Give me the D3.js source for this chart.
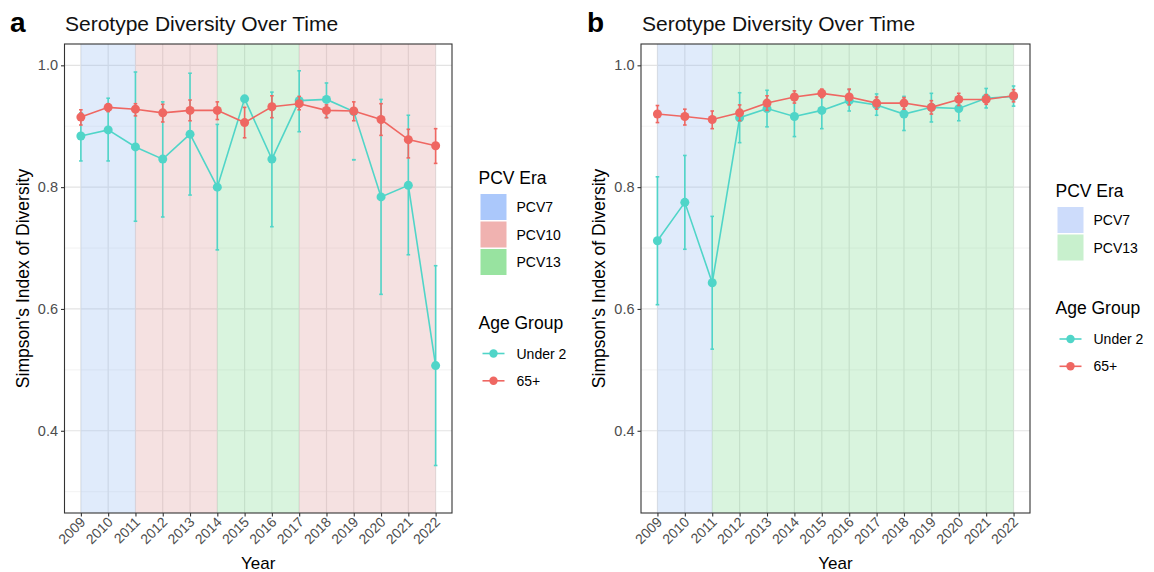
<!DOCTYPE html>
<html><head><meta charset="utf-8">
<script src="https://cdn.jsdelivr.net/npm/d3@7"></script>
<style>body{margin:0;background:#fff;}text{font-family:"Liberation Sans",Arial,sans-serif;}</style>
</head><body><svg id="c" width="1154" height="572"></svg>
<script>
const years = [2009,2010,2011,2012,2013,2014,2015,2016,2017,2018,2019,2020,2021,2022];
const yTicks = [0.4,0.6,0.8,1.0];
const yMinor = [0.3,0.5,0.7,0.9];

// Panel a
const aUnder2 = [0.884,0.894,0.866,0.846,0.887,0.800,0.945,0.846,0.942,0.944,0.924,0.784,0.803,0.507];
const aUnder2Lo = [0.843,0.843,0.744,0.751,0.787,0.697,0.945,0.735,0.891,0.914,0.845,0.624,0.689,0.343];
const aUnder2Hi = [0.922,0.946,0.989,0.940,0.987,0.903,0.945,0.956,0.991,0.971,0.845,0.944,0.918,0.671];
const a65 = [0.915,0.931,0.928,0.922,0.926,0.926,0.906,0.932,0.937,0.926,0.925,0.911,0.878,0.868];
const a65Lo = [0.902,0.924,0.917,0.907,0.909,0.911,0.881,0.914,0.927,0.914,0.909,0.885,0.848,0.839];
const a65Hi = [0.927,0.936,0.937,0.936,0.943,0.940,0.931,0.950,0.949,0.935,0.940,0.937,0.895,0.896];
const aEraStart = [2009,2011,2014,2017];
const aEraEnd = [2011,2014,2017,2022];
const aEraName = ["PCV7","PCV10","PCV13","PCV10"];
const aLegendEras = ["PCV7","PCV10","PCV13"];

// Panel b
const bUnder2 = [0.712,0.775,0.643,0.914,0.929,0.916,0.926,0.942,0.935,0.920,0.931,0.929,0.946,0.949];
const bUnder2Lo = [0.607,0.698,0.534,0.873,0.899,0.883,0.896,0.925,0.918,0.893,0.907,0.909,0.930,0.933];
const bUnder2Hi = [0.817,0.852,0.752,0.955,0.959,0.944,0.955,0.960,0.953,0.949,0.954,0.950,0.962,0.966];
const b65 = [0.920,0.916,0.911,0.922,0.938,0.948,0.954,0.948,0.938,0.938,0.931,0.944,0.944,0.950];
const b65Lo = [0.906,0.902,0.896,0.909,0.926,0.938,0.947,0.935,0.928,0.928,0.920,0.934,0.936,0.940];
const b65Hi = [0.934,0.928,0.925,0.935,0.950,0.958,0.961,0.961,0.948,0.947,0.942,0.954,0.952,0.960];
const bEraStart = [2009,2011];
const bEraEnd = [2011,2022];
const bEraName = ["PCV7","PCV13"];
const bLegendEras = ["PCV7","PCV13"];

const ageGroups = ["Under 2","65+"];
const ageColor = {"Under 2":"#50D5C8","65+":"#EF6762"};
const eraFill = {"PCV7":"#98bcf2","PCV10":"#dd9b9b","PCV13":"#80da91"};
const eraKeyA = {"PCV7":"#abc8fb","PCV10":"#f0b2b0","PCV13":"#98e3a0"};
const eraKeyB = {"PCV7":"#cddcfb","PCV13":"#c8f0cd"};

const svg = d3.select("#c");

function panel(opt){
  const {left,right,top,bottom,letter,letterX,titleX,u2,u2lo,u2hi,o65,o65lo,o65hi,eS,eE,eN,legX,legY,legEras,keyCol} = opt;
  const x = d3.scaleLinear().domain([2009-0.6,2022+0.6]).range([left,right]);
  const y = d3.scaleLinear().domain([0.265,1.035]).range([bottom,top]);
  const g = svg.append("g");
  // titles
  g.append("text").attr("x",letterX).attr("y",32).attr("font-size",28).attr("font-weight","bold").attr("fill","#000").text(letter);
  g.append("text").attr("x",titleX).attr("y",31).attr("font-size",21).attr("fill","#111").text("Serotype Diversity Over Time");
  // grid
  g.selectAll(".ymn").data(yMinor).enter().append("line")
    .attr("x1",left).attr("x2",right).attr("y1",d=>y(d)).attr("y2",d=>y(d))
    .attr("stroke","#ebebeb").attr("stroke-width",0.6);
  g.selectAll(".ymj").data(yTicks).enter().append("line")
    .attr("x1",left).attr("x2",right).attr("y1",d=>y(d)).attr("y2",d=>y(d))
    .attr("stroke","#e3e3e3").attr("stroke-width",1.2);
  g.selectAll(".xmj").data(years).enter().append("line")
    .attr("x1",d=>x(d)).attr("x2",d=>x(d)).attr("y1",top).attr("y2",bottom)
    .attr("stroke","#e3e3e3").attr("stroke-width",1.2);
  // eras
  g.selectAll(".era").data(eS).enter().append("rect")
    .attr("x",d=>x(d)).attr("width",(d,i)=>x(eE[i])-x(d))
    .attr("y",top).attr("height",bottom-top)
    .attr("fill",(d,i)=>eraFill[eN[i]]).attr("opacity",0.3);
  // series
  const series = [
    {name:"Under 2",m:u2,lo:u2lo,hi:u2hi},
    {name:"65+",m:o65,lo:o65lo,hi:o65hi}
  ];
  const line = d3.line().x((d,i)=>x(years[i])).y(d=>y(d));
  series.forEach(s=>{
    const col = ageColor[s.name];
    const sg = g.append("g");
    sg.append("path").datum(s.m).attr("d",line).attr("fill","none").attr("stroke",col).attr("stroke-width",1.6);
    years.forEach((yr,i)=>{
      if (s.lo[i]===s.hi[i] && s.lo[i]===s.m[i]) return;
      sg.append("line").attr("x1",x(yr)).attr("x2",x(yr)).attr("y1",y(s.lo[i])).attr("y2",y(s.hi[i]))
        .attr("stroke",col).attr("stroke-width",1.6);
      [s.lo[i],s.hi[i]].forEach(v=>{
        sg.append("line").attr("x1",x(yr)-1.8).attr("x2",x(yr)+1.8).attr("y1",y(v)).attr("y2",y(v))
          .attr("stroke",col).attr("stroke-width",1.6);
      });
    });
    sg.selectAll("circle").data(s.m).enter().append("circle")
      .attr("cx",(d,i)=>x(years[i])).attr("cy",d=>y(d)).attr("r",4.5).attr("fill",col);
  });
  // border
  g.append("rect").attr("x",left).attr("y",top).attr("width",right-left).attr("height",bottom-top)
    .attr("fill","none").attr("stroke","#333").attr("stroke-width",1.1);
  // y axis
  const ya = g.append("g").attr("transform",`translate(${left},0)`)
    .call(d3.axisLeft(y).tickValues(yTicks).tickFormat(d3.format(".1f")).tickSize(3.5).tickPadding(3));
  ya.select(".domain").remove();
  ya.selectAll("line").attr("stroke","#333").attr("stroke-width",1.1);
  ya.selectAll("text").attr("font-size",14.5).attr("fill","#4d4d4d").style("font-family","Liberation Sans, Arial, sans-serif");
  // x axis
  const xa = g.append("g").attr("transform",`translate(0,${bottom})`)
    .call(d3.axisBottom(x).tickValues(years).tickFormat(d3.format("d")).tickSize(3.5));
  xa.select(".domain").remove();
  xa.selectAll("line").attr("stroke","#333").attr("stroke-width",1.1);
  xa.selectAll("text").attr("font-size",14).attr("fill","#4d4d4d").style("font-family","Liberation Sans, Arial, sans-serif")
    .attr("text-anchor","end").attr("dy",null).attr("y",null)
    .attr("transform","translate(5,10) rotate(-45)");
  // axis titles
  g.append("text").attr("x",(left+right)/2).attr("y",569).attr("text-anchor","middle").attr("font-size",17).attr("fill","#000").text("Year");
  g.append("text").attr("transform",`translate(${left-36},${(top+bottom)/2}) rotate(-90)`)
    .attr("text-anchor","middle").attr("font-size",17.5).attr("fill","#000").text("Simpson's Index of Diversity");
  // legend
  const lg = g.append("g").attr("transform",`translate(${legX},${legY})`);
  lg.append("text").attr("x",-2).attr("y",0).attr("font-size",17.5).attr("fill","#000").text("PCV Era");
  legEras.forEach((e,i)=>{
    lg.append("rect").attr("x",0).attr("y",10+i*27.5).attr("width",26).attr("height",26).attr("fill",keyCol[e]);
    lg.append("text").attr("x",36).attr("y",10+i*27.5+18).attr("font-size",14).attr("fill","#000").text(e);
  });
  const ay = 10 + legEras.length*27.5 + 52;
  lg.append("text").attr("x",-2).attr("y",ay).attr("font-size",17.5).attr("fill","#000").text("Age Group");
  ageGroups.forEach((a,i)=>{
    const cy = ay + 25 + i*27.3;
    lg.append("line").attr("x1",2).attr("x2",24).attr("y1",cy).attr("y2",cy).attr("stroke",ageColor[a]).attr("stroke-width",1.6);
    lg.append("circle").attr("cx",13).attr("cy",cy).attr("r",4.2).attr("fill",ageColor[a]);
    lg.append("text").attr("x",36).attr("y",cy+5).attr("font-size",14).attr("fill","#000").text(a);
  });
}

panel({left:64.5,right:452,top:44,bottom:513,letter:"a",letterX:10,titleX:65,
  u2:aUnder2,u2lo:aUnder2Lo,u2hi:aUnder2Hi,o65:a65,o65lo:a65Lo,o65hi:a65Hi,
  eS:aEraStart,eE:aEraEnd,eN:aEraName,legX:480.5,legY:184,legEras:aLegendEras,keyCol:eraKeyA});
panel({left:641,right:1030,top:44,bottom:513,letter:"b",letterX:587,titleX:642,
  u2:bUnder2,u2lo:bUnder2Lo,u2hi:bUnder2Hi,o65:b65,o65lo:b65Lo,o65hi:b65Hi,
  eS:bEraStart,eE:bEraEnd,eN:bEraName,legX:1057.5,legY:197,legEras:bLegendEras,keyCol:eraKeyB});
</script></body></html>
